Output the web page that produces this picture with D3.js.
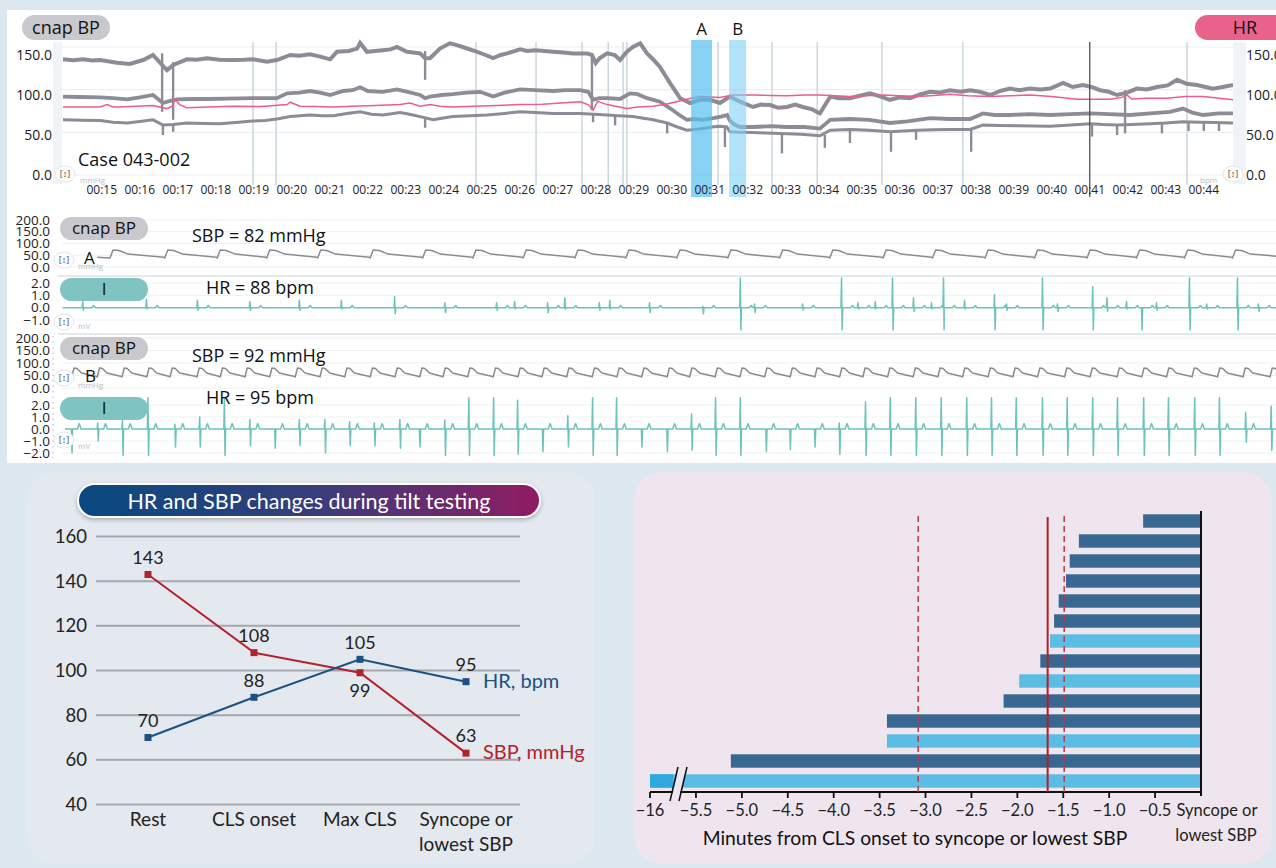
<!DOCTYPE html>
<html><head><meta charset="utf-8">
<script src="https://cdn.jsdelivr.net/npm/d3@7/dist/d3.min.js"></script>
<style>
html,body{margin:0;padding:0;background:#dce7f0;}
svg{display:block;}
</style></head>
<body>
<svg id="chart" width="1276" height="868"></svg>
<script>
// ================= DATA =================
// --- overview trend (minutes of recording, mmHg / bpm) ---
const minuteTicks = [15,16,17,18,19,20,21,22,23,24,25,26,27,28,29,30,31,32,33,34,35,36,37,38,39,40,41,42,43,44];
const overviewYTicks = [0,50,100,150];
const overviewGrid = [0,53.3,106.7,160];
const systolic = [[13.98,144.6],[14.25,143.5],[14.51,144.6],[14.75,143],[14.96,143.7],[15.2,142],[15.40,140.4],[15.74,138.7],[16.09,143.7],[16.35,150],[16.59,137.5],[16.72,131],[16.88,137.5],[17.24,144.6],[17.5,144],[17.77,145.8],[18.1,144],[18.46,143.7],[18.75,144],[18.98,144.6],[19.35,141.7],[19.61,143.7],[19.96,150],[20.2,149],[20.48,151],[20.75,148],[21.01,144.6],[21.19,154],[21.5,155],[21.72,158],[21.80,165],[21.98,154],[22.2,155],[22.40,156],[22.6,157],[22.77,160],[23.03,154],[23.2,153],[23.38,152],[23.51,146],[23.64,146],[23.90,158],[24.16,164.6],[24.30,163],[24.50,160],[24.88,154],[25.1,150],[25.30,146],[25.50,150],[25.67,152],[26.01,157],[26.20,155],[26.40,156],[26.65,155],[26.88,154],[27.15,153],[27.40,152],[27.77,152],[27.90,150],[28.00,140],[28.10,146],[28.30,152],[28.50,150],[28.64,143.7],[28.82,154],[28.98,160],[29.17,164.6],[29.35,152],[29.50,145],[29.69,135],[29.96,114.6],[30.22,96],[30.48,90],[30.74,94],[31.01,94],[31.27,90],[31.53,98],[31.80,91.6],[32.14,85],[32.35,88],[32.59,87.5],[32.80,84],[33.03,85],[33.25,88],[33.45,85],[33.7,82],[33.90,77],[34.17,98],[34.40,96],[34.69,96],[34.95,99],[35.22,102],[35.50,98],[35.74,94],[36.00,97],[36.27,96],[36.55,101],[36.80,104],[37.05,103],[37.32,106],[37.60,104],[37.85,106],[38.10,104],[38.38,100],[38.65,105],[38.90,108],[39.15,106],[39.43,108],[39.70,107],[39.96,108],[40.30,115],[40.55,110],[40.82,112.5],[41.05,110],[41.27,106],[41.50,104],[41.72,100],[41.98,103],[42.24,108],[42.50,107],[42.77,110],[43.05,112],[43.30,119],[43.55,114],[43.82,112.5],[44.05,110],[44.24,108],[44.50,110],[44.77,112.5]];
const meanBP = [[13.98,98],[14.4,97.5],[14.96,97],[15.3,96],[15.67,94.6],[16.0,97],[16.35,100],[16.61,90],[16.75,92],[16.98,94.6],[17.4,95],[17.77,95],[18.3,95.5],[18.98,96],[19.61,96],[19.88,102],[20.2,103],[20.48,105],[20.75,103],[21.01,100],[21.35,105],[21.6,106],[21.80,109.6],[22.0,105],[22.40,104],[22.77,107],[23.05,104],[23.38,100],[23.51,96],[23.64,98],[23.95,100],[24.24,101],[24.6,103],[24.96,104],[25.30,98],[25.6,103],[26.01,107],[26.4,106],[26.88,105],[27.2,106],[27.59,106],[27.80,104],[27.93,94],[28.10,96],[28.30,96],[28.64,95],[28.90,102],[29.1,101],[29.35,96],[29.69,91.6],[30.03,81],[30.20,75],[30.40,69],[30.60,70],[30.82,69],[31.09,71],[31.30,73],[31.46,75],[31.53,68],[31.65,63],[31.80,60],[32.14,60],[32.6,61],[33.03,60],[33.5,60],[33.90,58],[34.17,69],[34.69,70],[35.2,69],[35.74,65],[36.2,67],[36.80,71],[37.3,70],[37.85,70],[38.19,77],[38.5,75],[38.90,75],[39.4,76],[39.96,75],[40.5,76],[41.01,77],[41.5,76],[42.06,75],[42.6,77],[43.11,79],[43.45,83],[43.7,78],[43.98,75],[44.4,77],[44.77,77]];
const diastolic = [[13.98,69],[14.5,68.5],[14.96,68],[15.3,66],[15.67,65],[16.0,67],[16.35,69],[16.61,62.5],[16.88,63],[17.24,65],[17.7,64.5],[18.11,64],[18.6,66],[18.98,67.5],[19.3,68],[19.61,70],[19.96,73],[20.48,75],[20.8,74],[21.09,74],[21.45,77],[21.80,79],[22.1,76],[22.40,75],[22.85,78],[23.1,76],[23.38,73],[23.72,69],[23.95,71],[24.24,73],[24.7,74],[25.14,75],[25.6,77],[26.01,79],[26.4,78],[26.88,77],[27.2,77],[27.59,77],[27.95,76],[28.30,75],[28.6,74],[28.98,73],[29.25,71],[29.51,69],[29.88,65],[30.15,60],[30.40,56],[30.6,57],[30.82,58],[31.05,60],[31.27,61],[31.45,60],[31.53,54],[31.80,53.5],[32.14,53],[32.5,52.5],[32.85,52],[33.4,51],[33.90,49],[34.17,56],[34.69,57],[35.2,56],[35.74,54],[36.1,55],[36.46,56],[36.9,56.5],[37.32,57],[37.85,57],[38.19,62.5],[38.6,62],[39.1,61.5],[39.96,61],[40.5,62.5],[41.01,64],[41.35,63],[41.72,62.5],[42.1,63],[42.59,64],[43.0,65],[43.45,66.6],[43.9,66],[44.3,65.5],[44.77,65]];
const heartRate = [[13.98,85],[14.5,85],[14.96,85],[15.14,88],[15.3,85],[15.48,85],[15.9,86],[16.35,86.9],[16.72,83],[16.85,86],[16.93,94.6],[17.05,88],[17.24,84],[17.8,85],[18.46,86],[19.2,85.5],[19.88,88],[19.96,91],[20.22,86],[20.6,85.5],[21.09,85],[21.6,86],[22.2,87],[22.85,88],[23.11,90],[23.38,86],[23.64,88],[23.9,86],[24.24,85],[24.8,86],[25.4,87],[26.01,88],[26.6,88.5],[27.1,90],[27.59,91.6],[27.80,88],[27.93,81],[28.05,92],[28.30,88],[28.82,83],[29.1,85],[29.51,86],[29.9,89],[30.40,94.6],[30.74,98],[31.27,97],[31.61,100],[32.14,100],[32.6,99.5],[33.03,99],[33.5,100],[33.90,100],[34.3,99],[34.69,98],[35.1,99],[35.56,100],[36.0,99],[36.46,98],[36.9,99.5],[37.32,101],[37.8,99],[38.38,98],[38.9,99],[39.43,100],[40.0,98],[40.67,94.6],[41.1,94.6],[41.53,94.6],[41.85,97],[41.98,100],[42.1,95],[42.5,96],[43.03,96],[43.5,98],[43.98,98],[44.4,96],[44.77,94]];
// artefact drops: [minute, from, to]
const dropouts = [[16.59,152,79],[16.88,141,69],[16.61,62,50],[16.88,63,54],[23.51,155,119],[23.51,70,59],[27.90,152,81],[27.93,76,66],[28.51,76,62],[29.88,65,52],[31.40,60,35],[32.90,52,27],[34.03,50,34],[34.69,56,40],[35.77,54,29],[36.43,56,44],[37.88,57,29],[41.06,64,48],[41.72,62,50],[41.93,106,52],[42.9,64,52],[43.6,66,55],[44.0,66,55],[44.4,65,55]];
const eventLines = [18.98,19.59,24.85,26.43,27.64,28.33,28.72,28.82,31.22,32.64,33.83,35.53,37.66,43.56];
const cursorLine = [41.0];
const windowA = [30.51,31.06];
const windowB = [31.51,31.96];

// --- waveform strips (seconds) ---
const bpTicks = [0,50,100,150,200];
const ecgTicksA = [-1,0,1,2];
const ecgTicksB = [-2,-1,0,1,2];
const bpBeatsA = [0.64,1.37,2.07,2.73,3.41,4.11,4.81,5.48,6.15,6.84,7.52,8.20,8.88,9.57,10.24,10.95,11.61,12.31,12.97,13.67,14.33,14.97,15.61];
const bpShapeA = {dt:[0,0.04,0.12,0.24], v:[38,72,70,55], tail:41};
const ecgSpikesA = [[0.28,0.5,0.2],[1.13,0.7,0.1],[1.81,0.6,0.2],[2.51,0.5,0.2],[3.17,0.6,0.2],[3.73,0.6,0.1],[4.44,0.9,0.5],[5.11,0.4,0.4],[5.80,0.4,0.2],[6.04,0.5,0.1],[6.48,0.4,0.4],[6.71,0.8,0.1],[7.17,0.4,0.2],[7.31,0.6,0.1],[7.84,0.4,0.4],[8.55,0.1,0.5],[9.05,2.4,1.8],[9.24,0.3,0.4],[9.88,0.3,0.2],[10.40,2.4,1.8],[10.62,0.4,0.1],[10.85,0.5,0.1],[11.08,2.4,1.8],[11.36,0.8,0.3],[11.60,0.4,0.1],[11.76,2.4,1.8],[12.04,0.6,0.1],[12.44,1.05,1.8],[12.60,0.3,0.2],[13.08,2.4,1.8],[13.28,0.3,0.3],[13.75,1.7,1.8],[13.94,0.8,0.3],[14.20,0.5,0.1],[14.40,0.0,1.8],[14.60,0.4,0.2],[15.04,2.4,1.8],[15.27,0.3,0.1],[15.68,2.4,1.8],[15.96,0.3,0.3]];
const ecgBumpA = {dt:0.14, v:0.18};
const bpBeatsB = [0.13,0.47,0.80,1.13,1.44,1.80,2.11,2.44,2.77,3.11,3.44,3.77,4.11,4.44,4.77,5.08,5.41,5.75,6.08,6.40,6.73,7.07,7.40,7.73,8.07,8.37,8.71,9.04,9.37,9.71,10.04,10.37,10.68,11.01,11.35,11.68,12.01,12.35,12.68,13.01,13.37,13.71,14.07,14.40,14.73,15.07,15.41,15.75,16.11];
const bpShapeB = {dt:[0,0.03,0.07,0.13], v:[44,80,78,60], tail:46};
const ecgSpikesB = [[0.13,0,2.0],[0.48,0.5,1.0],[0.81,0.75,2.2],[1.15,2.6,2.2],[1.51,0.4,1.5],[1.84,1.0,1.5],[2.17,2.6,2.2],[2.51,0.8,1.4],[2.84,0,1.6],[3.17,0.8,1.4],[3.51,0.8,2.0],[3.84,0.6,1.4],[4.17,0.5,1.4],[4.51,0.8,1.6],[4.77,0,1.5],[5.11,0.75,2.2],[5.43,2.6,2.2],[5.76,2.6,2.2],[6.08,2.4,2.1],[6.41,0,1.9],[6.75,1.1,1.5],[7.08,2.6,2.2],[7.40,2.6,2.2],[7.73,0,1.5],[8.07,0,1.9],[8.40,1.25,1.75],[8.72,2.6,2.2],[9.05,2.6,2.2],[9.39,0,1.9],[9.71,0,1.7],[10.04,0,1.5],[10.37,0.5,2.1],[10.72,2.25,2.2],[11.05,2.6,2.2],[11.39,2.6,2.2],[11.73,2.6,2.2],[12.07,2.6,2.2],[12.40,2.6,2.2],[12.73,2.6,2.2],[13.08,2.6,2.2],[13.41,2.6,2.2],[13.75,2.6,2.2],[14.08,2.6,2.2],[14.43,2.6,2.2],[14.76,2.6,2.2],[15.11,2.6,2.2],[15.44,2.6,2.2],[15.79,1.4,1.1],[16.13,1.9,1.8]];
const ecgBumpB = {dt:0.1, v:0.45};

// --- HR / SBP line chart ---
const stages = ['Rest','CLS onset','Max CLS','Syncope or\nlowest SBP'];
const sbpValues = [143,108,99,63];
const hrValues = [70,88,105,95];
const sbpLabelSide = ['above','above','below','above'];
const hrLabelSide = ['above','above','above','above'];
const lineYTicks = [40,60,80,100,120,140,160];

// --- minutes bar chart ---
const barMinutes = [-0.63,-1.33,-1.43,-1.47,-1.55,-1.60,-1.645,-1.75,-1.98,-2.15,-3.42,-3.42,-5.12,-16];
const barKind = ['d','d','d','d','d','d','l','d','l','d','d','l','d','l'];
const barTicks = [-16,-5.5,-5,-4.5,-4,-3.5,-3,-2.5,-2,-1.5,-1,-0.5];
const medianMinutes = -1.67;
const quartileMinutes = [-3.08,-1.49];

// ================= DRAW =================
const svg = d3.select('#chart');
const TOP = "'Open Sans', 'Noto Sans', sans-serif";
const BOT = "Lato, 'Open Sans', sans-serif";
const fmt1 = v => (v<0?'\u2212':'') + Math.abs(v).toFixed(1);

const defs = svg.append('defs');
svg.append('rect').attr('width',1276).attr('height',868).attr('fill','#dce7f0');
svg.append('rect').attr('x',7).attr('y',10).attr('width',1269).attr('height',453).attr('fill','#ffffff');

// ---------- overview ----------
const tx = d3.scaleLinear().domain([13.955,44.77]).range([62,1233]);
const yO = d3.scaleLinear().domain([0,150]).range([175,55]);
const ov = svg.append('g');
ov.append('rect').attr('x',53).attr('y',42).attr('width',9).attr('height',142).attr('fill','#f1f4f7');
ov.append('rect').attr('x',1233).attr('y',42).attr('width',13).attr('height',142).attr('fill','#f1f4f7');
ov.selectAll('.og').data(overviewGrid).join('line')
  .attr('x1',62).attr('x2',1233).attr('y1',d=>yO(d)).attr('y2',d=>yO(d))
  .attr('stroke','#eceff2').attr('stroke-width',1.2);
ov.selectAll('.ev').data(eventLines).join('line')
  .attr('x1',d=>tx(d)).attr('x2',d=>tx(d)).attr('y1',42).attr('y2',185)
  .attr('stroke','#cad7dd').attr('stroke-width',1.5);
defs.append('clipPath').attr('id','ovclip').append('rect').attr('x',62).attr('y',30).attr('width',1171).attr('height',160);
const og = ov.append('g').attr('clip-path','url(#ovclip)');
const lineO = d3.line().x(d=>tx(d[0])).y(d=>yO(d[1]));
og.selectAll('.dr').data(dropouts).join('line')
  .attr('x1',d=>tx(d[0])).attr('x2',d=>tx(d[0])).attr('y1',d=>yO(d[1])).attr('y2',d=>yO(d[2]))
  .attr('stroke','#8d8c96').attr('stroke-width',2.4);
[[diastolic,3.0],[meanBP,3.8],[systolic,4.0]].forEach(([s,w])=>{
  og.append('path').attr('d',lineO(s)).attr('fill','none').attr('stroke','#8d8c96')
    .attr('stroke-width',w).attr('stroke-linejoin','miter');
});
og.append('path').attr('d',lineO(heartRate)).attr('fill','none').attr('stroke','#ee5b8c').attr('stroke-width',1.5);
ov.selectAll('.cl').data(cursorLine).join('line')
  .attr('x1',d=>tx(d)).attr('x2',d=>tx(d)).attr('y1',42).attr('y2',197)
  .attr('stroke','#505055').attr('stroke-width',1.3);
ov.append('rect').attr('x',tx(windowA[0])).attr('y',40).attr('width',tx(windowA[1])-tx(windowA[0])).attr('height',157)
  .attr('fill','#55bff0').attr('opacity',0.7);
ov.append('rect').attr('x',tx(windowB[0])).attr('y',40).attr('width',tx(windowB[1])-tx(windowB[0])).attr('height',157)
  .attr('fill','#7fd0f5').attr('opacity',0.6);
ov.append('text').attr('x',tx((windowA[0]+windowA[1])/2)).attr('y',35).attr('text-anchor','middle')
  .attr('font-family',TOP).attr('font-size',17).attr('fill','#111').text('A');
ov.append('text').attr('x',tx((windowB[0]+windowB[1])/2)).attr('y',35).attr('text-anchor','middle')
  .attr('font-family',TOP).attr('font-size',17).attr('fill','#111').text('B');
ov.selectAll('.yl').data(overviewYTicks).join('text')
  .attr('x',52).attr('y',d=>yO(d)).attr('dy','0.35em').attr('text-anchor','end')
  .attr('font-family',TOP).attr('font-size',14).attr('fill','#222').text(d=>d.toFixed(1));
ov.selectAll('.yr').data(overviewYTicks).join('text')
  .attr('x',1246).attr('y',d=>yO(d)).attr('dy','0.35em')
  .attr('font-family',TOP).attr('font-size',14).attr('fill','#222').text(d=>d.toFixed(1));
ov.selectAll('.tl').data(minuteTicks).join('text')
  .attr('x',d=>tx(d)).attr('y',190).attr('dy','0.35em').attr('text-anchor','middle')
  .attr('font-family',TOP).attr('font-size',12).attr('fill','#222').text(d=>'00:'+d);
ov.append('text').attr('x',78).attr('y',166).attr('font-family',TOP).attr('font-size',18).attr('fill','#111').text('Case 043-002');

function pill(g,x,y,w,h,fill,label,size){
  g.append('rect').attr('x',x).attr('y',y).attr('width',w).attr('height',h).attr('rx',h/2).attr('fill',fill);
  g.append('text').attr('x',x+w/2).attr('y',y+h/2).attr('dy','0.35em').attr('text-anchor','middle')
    .attr('font-family',TOP).attr('font-size',size).attr('fill','#111').text(label);
}
function icon(g,x,y){
  g.append('ellipse').attr('cx',x).attr('cy',y).attr('rx',10).attr('ry',8).attr('fill','#fff').attr('stroke','#e3e6e9');
  g.append('text').attr('x',x).attr('y',y).attr('dy','0.35em').attr('text-anchor','middle')
    .attr('font-family',TOP).attr('font-size',9).attr('fill','#444').text('[\u2195]');
}
function unit(g,x,y,t){
  g.append('text').attr('x',x).attr('y',y).attr('font-family',TOP).attr('font-size',8).attr('fill','#b8bcc0').text(t);
}
pill(ov,22,15,88,25,'#c9c9cd','cnap BP',18);
pill(ov,1195,15,100,25,'#e8628b','HR',18);
icon(ov,65,174); icon(ov,1233,174);
unit(ov,80,183,'mmHg'); unit(ov,1200,183,'bpm');

// ---------- waveform strips ----------
const sx = d3.scaleLinear().domain([0,16.19]).range([62,1276]);
const rows = [
  {top:214,bot:276,scale:d3.scaleLinear().domain([0,200]).range([267,220]),ticks:bpTicks},
  {top:276,bot:334,scale:d3.scaleLinear().domain([-1,2]).range([320,283]),ticks:ecgTicksA},
  {top:334,bot:394,scale:d3.scaleLinear().domain([0,200]).range([388,338]),ticks:bpTicks},
  {top:394,bot:460,scale:d3.scaleLinear().domain([-2,2]).range([453,405]),ticks:ecgTicksB}
];
const st = svg.append('g');
rows.forEach((r,i)=>{
  st.selectAll('.g'+i).data(r.ticks).join('line')
    .attr('x1',62).attr('x2',1276).attr('y1',d=>r.scale(d)).attr('y2',d=>r.scale(d))
    .attr('stroke','#edf1f3').attr('stroke-width',1);
  st.selectAll('.l'+i).data(r.ticks).join('text')
    .attr('x',50).attr('y',d=>r.scale(d)).attr('dy','0.35em').attr('text-anchor','end')
    .attr('font-family',TOP).attr('font-size',13.5).attr('fill','#222').text(d=>fmt1(d));
  defs.append('clipPath').attr('id','rc'+i).append('rect').attr('x',62).attr('y',r.top).attr('width',1214).attr('height',r.bot-r.top);
});
[276,334].forEach(y=>st.append('line').attr('x1',58).attr('x2',1276).attr('y1',y).attr('y2',y).attr('stroke','#c9d3d9').attr('stroke-width',1.2));
st.append('line').attr('x1',53).attr('x2',53).attr('y1',336).attr('y2',458).attr('stroke','#9dbbd6').attr('stroke-dasharray','1.5,4');

function bpPoints(beats, shape, start, end){
  const pts=[[start, shape.tail]];
  beats.forEach((b,i)=>{
    const next = i<beats.length-1 ? beats[i+1] : end+0.2;
    shape.dt.forEach((dt,j)=>pts.push([b+dt, shape.v[j]]));
    pts.push([next-0.01, shape.tail]);
  });
  return pts;
}
function ecgPoints(spikes, start, end, bump){
  const pts=[[start,0]];
  spikes.forEach(([s,up,down])=>{
    pts.push([s-0.012,0],[s-0.004,up],[s+0.004,-down],[s+0.012,0]);
    if(bump) pts.push([s+bump.dt-0.025,0],[s+bump.dt,bump.v],[s+bump.dt+0.025,0]);
  });
  pts.push([end,0]);
  return pts.sort((a,b)=>a[0]-b[0]);
}
const traces = [
  {row:0, pts:bpPoints(bpBeatsA,bpShapeA,0.47,16.19), color:'#8b8993', w:1.5},
  {row:1, pts:ecgPoints(ecgSpikesA,0.01,16.19,ecgBumpA), color:'#6dc2bd', w:1.5},
  {row:2, pts:bpPoints(bpBeatsB,bpShapeB,0.04,16.19), color:'#8b8993', w:1.5},
  {row:3, pts:ecgPoints(ecgSpikesB,0.04,16.19,ecgBumpB), color:'#6dc2bd', w:1.5}
];
traces.forEach(t=>{
  const r=rows[t.row];
  const ln=d3.line().x(d=>sx(d[0])).y(d=>r.scale(d[1]));
  st.append('path').attr('clip-path','url(#rc'+t.row+')').attr('d',ln(t.pts))
    .attr('fill','none').attr('stroke',t.color).attr('stroke-width',t.w).attr('stroke-linejoin','round');
});
pill(st,60,217,88,23,'#c9c9cd','cnap BP',17);
pill(st,60,278,88,23,'#7fc4c1','I',17);
pill(st,60,337,88,23,'#c9c9cd','cnap BP',17);
pill(st,60,397,88,23,'#7fc4c1','I',17);
[[192,242,'SBP = 82 mmHg'],[206,294,'HR = 88 bpm'],[192,362,'SBP = 92 mmHg'],[206,404,'HR = 95 bpm']].forEach(([x,y,t])=>{
  st.append('text').attr('x',x).attr('y',y).attr('font-family',TOP).attr('font-size',18).attr('fill','#111').text(t);
});
st.append('text').attr('x',84).attr('y',264).attr('font-family',TOP).attr('font-size',17).attr('fill','#111').text('A');
st.append('text').attr('x',85).attr('y',382).attr('font-family',TOP).attr('font-size',17).attr('fill','#111').text('B');
icon(st,64,260); icon(st,64,322); icon(st,64,378); icon(st,64,440);
unit(st,78,269,'mmHg'); unit(st,78,329,'mV'); unit(st,78,388,'mmHg'); unit(st,78,449,'mV');

// ---------- bottom-left: HR & SBP ----------
const sh = defs.append('filter').attr('id','sh').attr('x','-10%').attr('y','-30%').attr('width','120%').attr('height','170%');
sh.append('feDropShadow').attr('dx',0).attr('dy',2).attr('stdDeviation',2).attr('flood-color','#000').attr('flood-opacity',0.25);
const gr = defs.append('linearGradient').attr('id','tg');
gr.append('stop').attr('offset','0%').attr('stop-color','#064a7f');
gr.append('stop').attr('offset','50%').attr('stop-color','#363e7c');
gr.append('stop').attr('offset','100%').attr('stop-color','#911c62');

const bl = svg.append('g');
bl.append('rect').attr('x',27).attr('y',472).attr('width',568).attr('height',392).attr('rx',28).attr('fill','#e4e8ef');
bl.append('rect').attr('x',78).attr('y',484).attr('width',462).attr('height',33).attr('rx',16.5)
  .attr('fill','url(#tg)').attr('stroke','#fff').attr('stroke-width',2).attr('filter','url(#sh)');
bl.append('text').attr('x',309).attr('y',501).attr('dy','0.35em').attr('text-anchor','middle')
  .attr('font-family',BOT).attr('font-size',21.5).attr('fill','#fff').text('HR and SBP changes during tilt testing');
const xL = d3.scalePoint().domain(stages).range([148,466]);
const yL = d3.scaleLinear().domain([40,160]).range([804.5,536.5]);
bl.selectAll('.lg').data(lineYTicks).join('line')
  .attr('x1',96).attr('x2',520).attr('y1',d=>yL(d)).attr('y2',d=>yL(d)).attr('stroke','#a5a7ae').attr('stroke-width',2);
bl.selectAll('.ly').data(lineYTicks).join('text')
  .attr('x',87).attr('y',d=>yL(d)).attr('dy','0.35em').attr('text-anchor','end')
  .attr('font-family',BOT).attr('font-size',18.5).attr('fill','#222').text(d=>d);
stages.forEach(s=>{
  const t = bl.append('text').attr('x',xL(s)).attr('y',826).attr('text-anchor','middle')
    .attr('font-family',BOT).attr('font-size',19).attr('fill','#222');
  s.split('\n').forEach((p,k)=>t.append('tspan').attr('x',xL(s)).attr('dy',k?25:0).text(p));
});
const seriesL = [
  {vals:sbpValues, side:sbpLabelSide, color:'#b3232b', name:'SBP, mmHg'},
  {vals:hrValues, side:hrLabelSide, color:'#1c5184', name:'HR, bpm'}
];
seriesL.forEach(s=>{
  const pts = stages.map((c,i)=>[xL(c), yL(s.vals[i])]);
  bl.append('path').attr('d',d3.line()(pts)).attr('fill','none').attr('stroke',s.color).attr('stroke-width',2);
  bl.selectAll(null).data(pts).join('rect').attr('x',d=>d[0]-3.5).attr('y',d=>d[1]-3.5)
    .attr('width',7).attr('height',7).attr('fill',s.color);
  bl.selectAll(null).data(pts).join('text')
    .attr('x',d=>d[0]).attr('y',(d,i)=>d[1] + (s.side[i]==='above'?-17:18)).attr('dy','0.35em')
    .attr('text-anchor','middle').attr('font-family',BOT).attr('font-size',18).attr('fill','#222')
    .text((d,i)=>s.vals[i]);
  bl.append('text').attr('x',483).attr('y',pts[3][1]).attr('dy','0.3em')
    .attr('font-family',BOT).attr('font-size',20).attr('fill',s.color).text(s.name);
});

// ---------- bottom-right: minutes bars ----------
const br = svg.append('g');
br.append('rect').attr('x',634).attr('y',472).attr('width',638).attr('height',392).attr('rx',28).attr('fill','#efe5ee');
const xB = d3.scaleLinear().domain([-16,-5.75,0]).range([650,673,1201]);
const yB = d3.scaleBand().domain(d3.range(barMinutes.length)).range([511,791]).paddingInner(0.33).paddingOuter(0.165);
const barColor = {d:'#386892', l:'#5bbde4'};
br.selectAll('.bar').data(barMinutes).join('rect')
  .attr('x',d=>xB(d)).attr('y',(d,i)=>yB(i)).attr('width',d=>xB(0)-xB(d)).attr('height',yB.bandwidth())
  .attr('fill',(d,i)=>barColor[barKind[i]]);
const longest = barMinutes.length-1;
br.append('rect').attr('x',xB(barMinutes[longest])).attr('y',yB(longest)).attr('width',xB(-5.75)-xB(barMinutes[longest]))
  .attr('height',yB.bandwidth()).attr('fill','#2ea8dd');
br.append('line').attr('x1',650).attr('x2',xB(0)).attr('y1',792).attr('y2',792).attr('stroke','#111').attr('stroke-width',2);
br.append('line').attr('x1',xB(0)).attr('x2',xB(0)).attr('y1',511).attr('y2',796).attr('stroke','#111').attr('stroke-width',2);
br.selectAll('.bt').data(barTicks).join('line')
  .attr('x1',d=>xB(d)).attr('x2',d=>xB(d)).attr('y1',792).attr('y2',798).attr('stroke','#111').attr('stroke-width',1.8);
const bx = xB(-5.75);
br.append('polygon').attr('points',[[bx-2,801],[bx+6,767],[bx+13,767],[bx+5,801]].map(p=>p.join(',')).join(' ')).attr('fill','#efe5ee');
br.append('line').attr('x1',bx-3).attr('y1',801).attr('x2',bx+5).attr('y2',767).attr('stroke','#111').attr('stroke-width',1.5);
br.append('line').attr('x1',bx+6).attr('y1',801).attr('x2',bx+14).attr('y2',767).attr('stroke','#111').attr('stroke-width',1.5);
quartileMinutes.forEach(m=>br.append('line').attr('x1',xB(m)).attr('x2',xB(m)).attr('y1',516).attr('y2',792)
  .attr('stroke','#c4353c').attr('stroke-width',1.5).attr('stroke-dasharray','6,4'));
br.append('line').attr('x1',xB(medianMinutes)).attr('x2',xB(medianMinutes)).attr('y1',517).attr('y2',792)
  .attr('stroke','#b21f28').attr('stroke-width',2);
br.selectAll('.btl').data(barTicks).join('text')
  .attr('x',d=>xB(d)).attr('y',810).attr('dy','0.35em').attr('text-anchor','middle')
  .attr('font-family',BOT).attr('font-size',16.5).attr('fill','#222')
  .text(d=>d===-16?'\u221216':fmt1(d));
br.append('text').attr('x',1217).attr('y',810).attr('dy','0.35em').attr('text-anchor','middle')
  .attr('font-family',BOT).attr('font-size',16.5).attr('fill','#222').text('Syncope or');
br.append('text').attr('x',1216).attr('y',835).attr('dy','0.35em').attr('text-anchor','middle')
  .attr('font-family',BOT).attr('font-size',16.5).attr('fill','#222').text('lowest SBP');
br.append('text').attr('x',915).attr('y',838).attr('dy','0.35em').attr('text-anchor','middle')
  .attr('font-family',BOT).attr('font-size',19.3).attr('fill','#111').text('Minutes from CLS onset to syncope or lowest SBP');
</script>
</body></html>
